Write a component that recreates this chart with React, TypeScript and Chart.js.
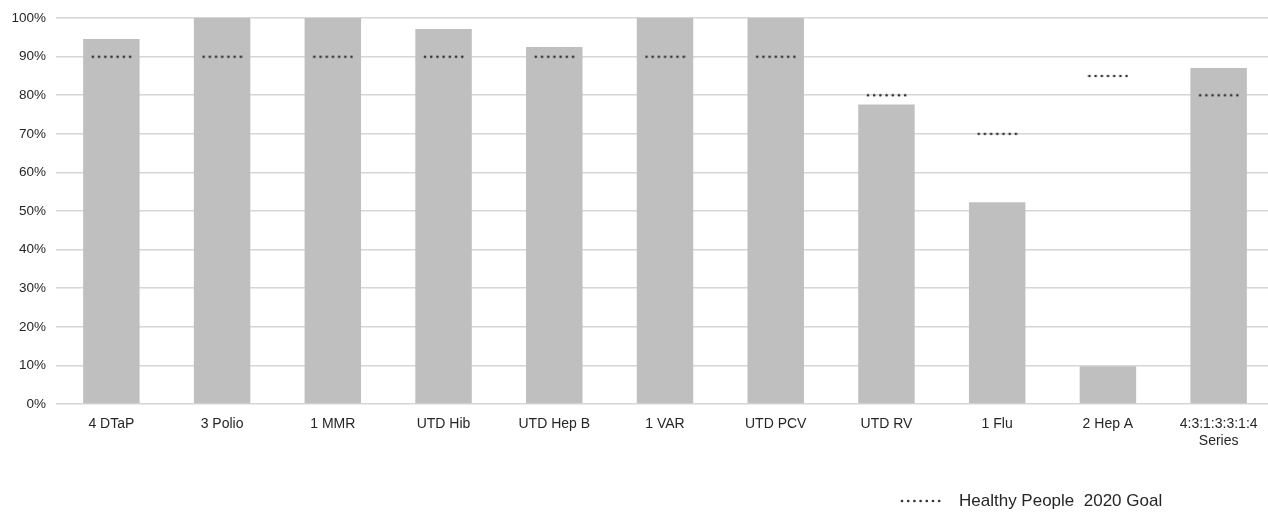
import React, { useEffect, useRef } from "react";
import { Chart, registerables } from "chart.js";

Chart.register(...registerables);

const categories: (string | string[])[] = [
  "4 DTaP",
  "3 Polio",
  "1 MMR",
  "UTD Hib",
  "UTD Hep B",
  "1 VAR",
  "UTD PCV",
  "UTD RV",
  "1 Flu",
  "2 Hep A",
  ["4:3:1:3:3:1:4", "Series"],
];
const coverage = [94.6, 100, 100, 97.2, 92.5, 100, 100, 77.6, 52.3, 9.8, 87.1];
const goals = [90, 90, 90, 90, 90, 90, 90, 80, 70, 85, 80];
const yTicks = [0, 10, 20, 30, 40, 50, 60, 70, 80, 90, 100];
const legendLabel = "Healthy People  2020 Goal";

const FONT = "'Liberation Sans', Arial, sans-serif";

function makeDots(): HTMLCanvasElement {
  const c = document.createElement("canvas");
  c.width = 41;
  c.height = 4;
  const ctx = c.getContext("2d")!;
  ctx.fillStyle = "#333333";
  for (let i = 0; i < 7; i++) {
    ctx.beginPath();
    ctx.arc(2 + i * 6.2, 2, 1.35, 0, Math.PI * 2);
    ctx.fill();
  }
  return c;
}

export default function App() {
  const ref = useRef<HTMLCanvasElement | null>(null);
  const legendRef = useRef<HTMLCanvasElement | null>(null);

  useEffect(() => {
    if (!ref.current) return;
    const dots = makeDots();
    if (legendRef.current) {
      const lctx = legendRef.current.getContext("2d")!;
      lctx.clearRect(0, 0, 41, 4);
      lctx.drawImage(dots, 0, 0);
    }
    const chart = new Chart(ref.current, {
      type: "bar",
      data: {
        labels: categories as any,
        datasets: [
          {
            type: "line",
            label: legendLabel,
            data: goals,
            showLine: false,
            pointStyle: dots as any,
            pointRadius: 3,
            borderColor: "#333",
            backgroundColor: "#333",
            order: 0,
          } as any,
          {
            type: "bar",
            label: "Coverage",
            data: coverage,
            backgroundColor: "#bfbfbf",
            borderWidth: 0,
            categoryPercentage: 1,
            barPercentage: 0.51,
            order: 1,
          },
        ],
      },
      options: {
        responsive: false,
        animation: false,
        layout: { autoPadding: false, padding: { top: 16, right: 0, bottom: 0, left: 0 } },
        plugins: {
          legend: { display: false },
          tooltip: { enabled: false },
        },
        scales: {
          x: {
            grid: { display: false, drawTicks: false },
            border: { display: false },
            ticks: {
              font: { family: FONT, size: 14 },
              color: "#262626",
              padding: 12,
              maxRotation: 0,
              autoSkip: false,
            },
            afterFit: (scale: any) => {
              scale.height = 108;
            },
          },
          y: {
            min: 0,
            max: 100,
            afterBuildTicks: (scale: any) => {
              scale.ticks = yTicks.map((v) => ({ value: v }));
            },
            grid: { color: "#d6d6d6", lineWidth: 1.6, drawTicks: false },
            border: { display: false },
            ticks: {
              font: { family: FONT, size: 13.5 },
              color: "#262626",
              padding: 10,
              callback: (v: any) => v + "%",
            },
            afterFit: (scale: any) => {
              scale.width = 56;
            },
          },
        },
      },
    });
    return () => chart.destroy();
  }, []);

  return (
    <div
      style={{
        position: "absolute",
        left: 0,
        top: 0,
        width: 1268,
        height: 512,
        overflow: "hidden",
        background: "#fff",
      }}
    >
      <canvas ref={ref} width={1274} height={512} style={{ display: "block" }} />
      <div
        style={{
          position: "absolute",
          left: 900,
          top: 491,
          display: "flex",
          alignItems: "center",
          fontFamily: FONT,
          fontSize: 17,
          color: "#262626",
          whiteSpace: "pre",
        }}
      >
        <canvas ref={legendRef} width={41} height={4} style={{ display: "block", marginRight: 18 }} />
        <span>{legendLabel}</span>
      </div>
    </div>
  );
}
